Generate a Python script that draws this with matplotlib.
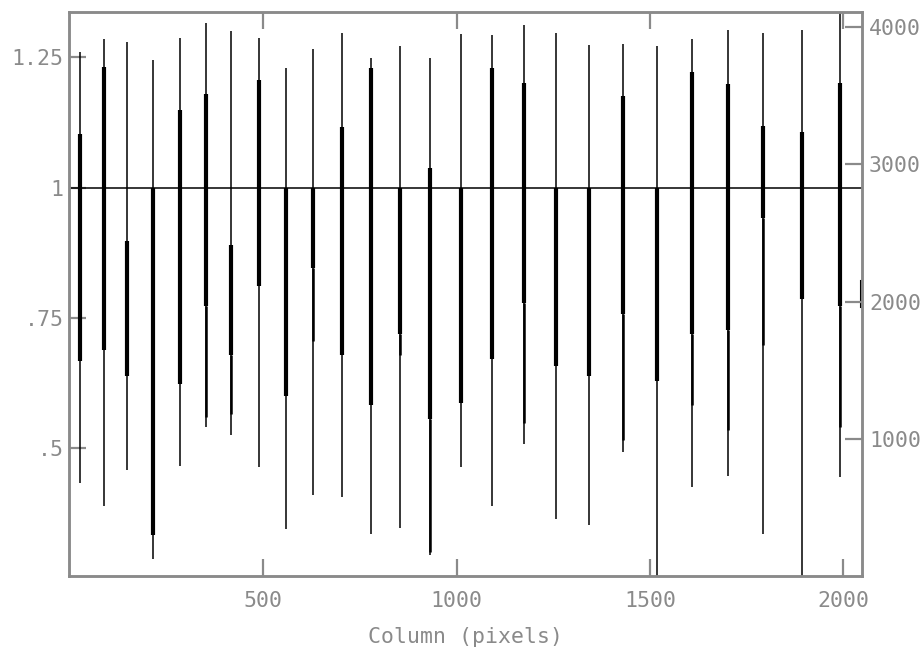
import numpy as np
import matplotlib.pyplot as plt

# line centres (column) and the normalised flux levels
line_cols = [26, 89, 149, 216, 285, 352, 416, 488, 559, 630, 703, 779, 853,
             931, 1011, 1091, 1173, 1257, 1341, 1429, 1517, 1608, 1701, 1793,
             1892, 1990]
peak_top = [1.260, 1.285, 1.279, 1.244, 1.288, 1.315, 1.301, 1.288, 1.230,
            1.266, 1.297, 1.248, 1.271, 1.248, 1.294, 1.292, 1.313, 1.297,
            1.274, 1.276, 1.271, 1.285, 1.302, 1.297, 1.302, 1.340]
core_high = [1.103, 1.232, 0.897, 1.000, 1.149, 1.180, 0.890, 1.206, 1.000,
             1.000, 1.117, 1.230, 1.000, 1.037, 1.000, 1.230, 1.200, 1.000,
             1.000, 1.175, 1.000, 1.221, 1.199, 1.119, 1.107, 1.201]
core_low = [0.667, 0.688, 0.639, 0.332, 0.622, 0.772, 0.678, 0.810, 0.599,
            0.845, 0.678, 0.583, 0.719, 0.555, 0.587, 0.671, 0.779, 0.657,
            0.639, 0.758, 0.629, 0.719, 0.726, 0.941, 0.786, 0.772]
shoulder = [0.667, 0.688, 0.639, 0.332, 0.622, 0.559, 0.566, 0.810, 0.599,
            0.705, 0.678, 0.583, 0.678, 0.300, 0.587, 0.671, 0.548, 0.657,
            0.639, 0.515, 0.629, 0.583, 0.534, 0.698, 0.786, 0.541]
trough = [0.433, 0.388, 0.458, 0.287, 0.465, 0.541, 0.524, 0.463, 0.345,
          0.409, 0.405, 0.335, 0.347, 0.295, 0.463, 0.388, 0.507, 0.363,
          0.352, 0.493, 0.250, 0.424, 0.447, 0.335, 0.250, 0.444]
continuum = 1.0
edge_cols = [2046, 2046]
edge_vals = [0.82, 0.77]

gray = '#8a8a8a'
plt.rcParams['font.family'] = 'DejaVu Sans Mono'

fig = plt.figure(figsize=(9.24, 6.5), dpi=100)
ax = fig.add_axes([0.0747, 0.1138, 0.8582, 0.8677])

ax.plot([0, 2048], [continuum, continuum], color='black', lw=1.1)
ax.vlines(line_cols, trough, peak_top, color='black', lw=1.1)
ax.vlines(line_cols, shoulder, core_low, color='black', lw=1.8)
ax.vlines(line_cols, core_low, core_high, color='black', lw=3.0)
ax.plot(edge_cols, edge_vals, color='black', lw=1.5)

ax.set_xlim(-2, 2048)
ax.set_ylim(0.254, 1.337)
ax.set_xticks([500, 1000, 1500, 2000])
ax.set_yticks([0.5, 0.75, 1.0, 1.25])
ax.set_yticklabels(['.5', '.75', '1', '1.25'])
ax.tick_params(axis='both', direction='in', length=12, width=1.6, color=gray,
               labelcolor=gray, labelsize=15.5, top=True)
ax.tick_params(axis='x', pad=11)
ax.tick_params(axis='y', pad=4)
ax.set_xlabel('Column (pixels)', color=gray, fontsize=15.5, labelpad=11)

ax2 = ax.twinx()
ax2.set_ylim(0, 4110)
ax2.set_yticks([1000, 2000, 3000, 4000])
ax2.tick_params(axis='y', direction='in', length=12, width=1.6, color=gray,
                labelcolor=gray, labelsize=15.5, pad=5)

for a in (ax, ax2):
    for s in a.spines.values():
        s.set_color(gray)
        s.set_linewidth(1.8)

fig.savefig('out.png', dpi=100)
